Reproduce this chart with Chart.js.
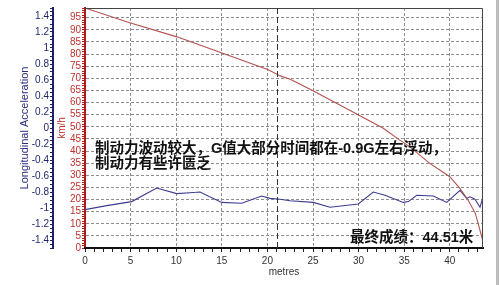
<!DOCTYPE html>
<html><head><meta charset="utf-8">
<script src="https://cdn.jsdelivr.net/npm/chart.js@4.4.0/dist/chart.umd.min.js"></script>
<style>
html,body{margin:0;padding:0;background:#fff;}
#wrap{position:relative;width:500px;height:285px;overflow:hidden;}
#edge{position:absolute;left:496px;top:0;width:3px;height:285px;background:#bdbdbd;}
</style></head><body>
<div id="wrap"><canvas id="c" width="500" height="285"></canvas><div id="edge"></div></div>
<script>
// Speed trace (km/h) vs distance (metres)
const speedDist = [0, 4.9, 10.0, 15.1, 20.1, 21.4, 22.5, 25.0, 30.0, 32.7, 34.4, 35.6, 37.8, 40.0, 41.1, 42.0, 42.8, 43.2, 43.6, 43.64];
const speedKmh  = [99, 92.9, 87.2, 80.3, 73.5, 71.0, 69.6, 64.9, 54.9, 49.4, 44.8, 41.8, 34.9, 29.4, 24.6, 19.8, 14.3, 8.8, 3.3, 0.5];
// Longitudinal acceleration (G) vs distance (metres)
const accDist = [0, 2.38, 5.12, 7.86, 10.05, 11.51, 12.61, 14.99, 17.18, 19.37, 20.29, 21.38, 22.48, 25.03, 26.86, 29.97, 31.61, 32.89, 34.90, 35.45, 36.37, 38.19, 39.66, 41.12, 41.85, 42.21, 42.76, 43.31, 43.60, 43.64];
const accG    = [-1.02, -0.97, -0.92, -0.75, -0.82, -0.81, -0.80, -0.93, -0.94, -0.85, -0.88, -0.89, -0.91, -0.93, -0.99, -0.95, -0.80, -0.84, -0.93, -0.92, -0.84, -0.85, -0.93, -0.78, -0.88, -0.86, -0.89, -0.99, -0.88, -0.84];
// Axis ranges and ticks
const xMin = 0, xMax = 43.64;
const xTicks = Array.from({length: 44}, (_, i) => i);          // metres, labelled every 5
const speedTicks = Array.from({length: 100}, (_, i) => i);     // km/h, labelled every 5 (0..95)
const accTicks = Array.from({length: 61}, (_, i) => Math.round((-1.5 + i * 0.05) * 100) / 100); // G, labelled every 0.2
const cursorDist = 21.0;
// Annotation texts
const note1 = '制动力波动较大，G值大部分时间都在-0.9G左右浮动，';
const note2 = '制动力有些许匮乏';
const result = '最终成绩：44.51米';

const RED = '#c0302c', NAVY = '#1f1f6e', GRID = '#8f8f8f';

const overlay = {
  id: 'overlay',
  afterDatasetsDraw(chart) {
    const {ctx, chartArea: a, scales} = chart;
    ctx.save();
    ctx.strokeStyle = '#444'; ctx.lineWidth = 1;
    ctx.beginPath();
    ctx.moveTo(a.left, a.top + 0.5); ctx.lineTo(a.right - 0.5, a.top + 0.5); ctx.lineTo(a.right - 0.5, a.bottom);
    ctx.stroke();
    const cx = Math.round(scales.x.getPixelForValue(cursorDist)) + 0.5;
    ctx.strokeStyle = '#333'; ctx.lineWidth = 1; ctx.setLineDash([6, 3]);
    ctx.beginPath(); ctx.moveTo(cx, a.top); ctx.lineTo(cx, a.bottom + 3); ctx.stroke();
    ctx.setLineDash([]);
    ctx.fillStyle = '#111';
    ctx.textBaseline = 'middle'; ctx.textAlign = 'left';
    ctx.font = 'bold 14.5px "Liberation Sans", "Noto Sans CJK SC", sans-serif';
    ctx.fillText(note1, 95, 148.5);
    ctx.fillText(note2, 95, 163.5);
    ctx.fillText(result, 350, 238);
    ctx.restore();
  }
};

const fmtAcc = v => {
  const r = Math.round(v * 10) / 10;
  return (r === 0 ? 0 : r).toString();
};
const gridAt5 = c => (c.index % 5 === 0 && c.index > 0) ? GRID : 'rgba(0,0,0,0)';

new Chart(document.getElementById('c'), {
  type: 'line',
  data: {
    datasets: [
      { label: 'km/h', data: speedDist.map((d, i) => ({x: d, y: speedKmh[i]})), yAxisID: 'y',
        borderColor: '#b3514f', borderWidth: 1.1, pointRadius: 0, tension: 0, fill: false },
      { label: 'Longitudinal Acceleration', data: accDist.map((d, i) => ({x: d, y: accG[i]})), yAxisID: 'yA',
        borderColor: '#3c3c90', borderWidth: 1.1, pointRadius: 0, tension: 0, fill: false }
    ]
  },
  options: {
    responsive: false, animation: false, devicePixelRatio: 1,
    layout: { padding: { top: 8, right: 17, left: 0, bottom: 0 } },
    plugins: { legend: { display: false }, tooltip: { enabled: false } },
    scales: {
      yA: {
        type: 'linear', position: 'left', min: -1.5, max: 1.5, weight: 2,
        afterBuildTicks: s => { s.ticks = accTicks.map(v => ({value: v})); },
        afterFit: s => { s.width = 53; },
        ticks: { autoSkip: false, padding: 1, color: NAVY, font: { size: 10, family: '"Liberation Sans", Arial, sans-serif' },
          callback: v => (Math.abs(v * 5 - Math.round(v * 5)) < 1e-6 && Math.abs(v) < 1.45) ? fmtAcc(v) : '' },
        grid: { drawOnChartArea: false, tickLength: 3, tickColor: NAVY },
        border: { color: NAVY, width: 2 },
        title: { display: true, text: 'Longitudinal Acceleration', color: '#2b2b80',
          font: { size: 11, family: '"Liberation Sans", Arial, sans-serif' }, padding: { top: 18, bottom: 0 } }
      },
      y: {
        type: 'linear', position: 'left', min: 0, max: 99, weight: 0,
        afterBuildTicks: s => { s.ticks = speedTicks.map(v => ({value: v})); },
        afterFit: s => { s.width = 32; },
        ticks: { autoSkip: false, padding: 1, color: RED, font: { size: 10, family: '"Liberation Sans", Arial, sans-serif' },
          callback: v => (v % 5 === 0) ? String(v) : '' },
        grid: { tickLength: 3, tickColor: '#b02020', lineWidth: 1, color: gridAt5 },
        border: { color: '#b01c1c', width: 2, dash: [3, 2] },
        title: { display: true, text: 'km/h', color: RED,
          font: { size: 10, family: '"Liberation Sans", Arial, sans-serif' }, padding: { top: 3, bottom: 0 } }
      },
      x: {
        type: 'linear', position: 'bottom', min: xMin, max: xMax,
        afterBuildTicks: s => { s.ticks = xTicks.map(v => ({value: v})); },
        afterFit: s => { s.height = 37; },
        ticks: { autoSkip: false, maxRotation: 0, padding: 3, color: '#333', font: { size: 10, family: '"Liberation Sans", Arial, sans-serif' },
          callback: v => (v % 5 === 0) ? String(v) : '' },
        grid: { tickLength: 4, tickColor: '#222', lineWidth: 1, color: gridAt5 },
        border: { color: '#111', width: 2, dash: [3, 2] },
        title: { display: true, text: 'metres', color: '#333',
          font: { size: 10, family: '"Liberation Sans", Arial, sans-serif' }, padding: { top: 0, bottom: 7 } }
      }
    }
  },
  plugins: [overlay]
});
</script>
</body></html>
